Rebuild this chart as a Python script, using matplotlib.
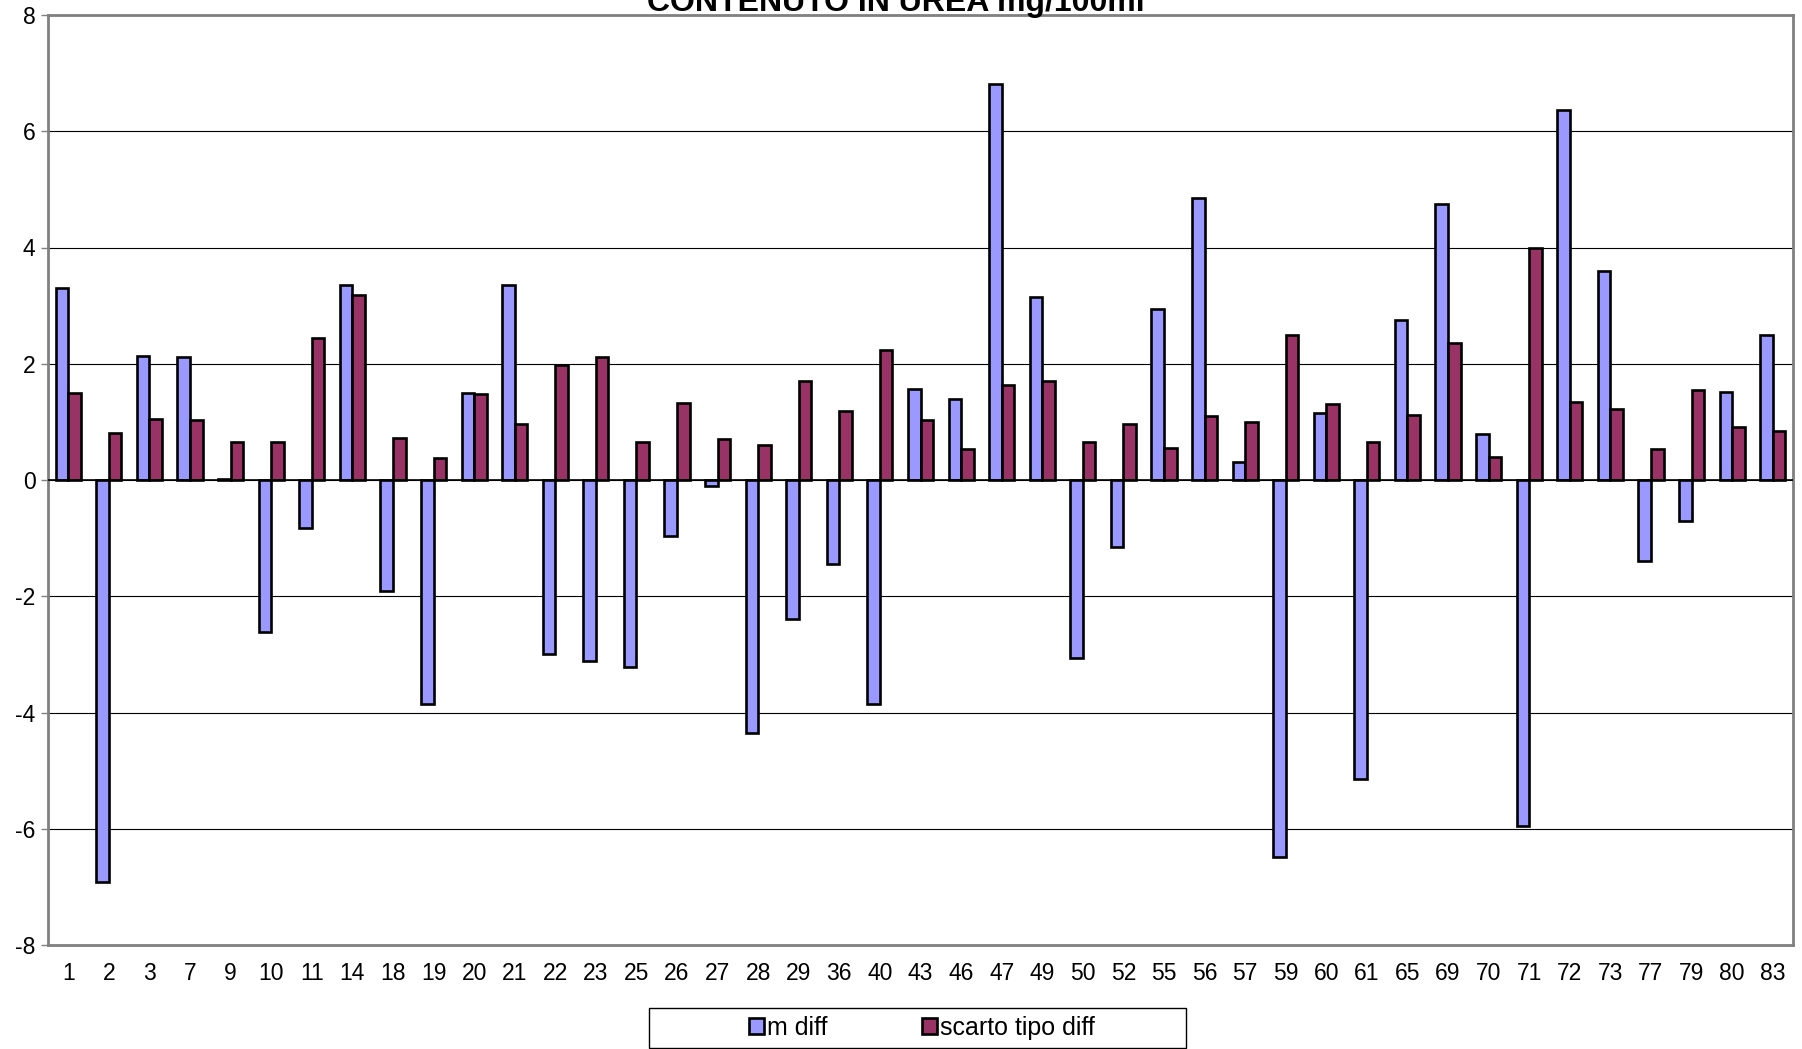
import matplotlib.pyplot as plt
from matplotlib.patches import Rectangle
import numpy as np

plt.rcParams['font.family'] = ['Liberation Sans', 'DejaVu Sans']
plt.rcParams['axes.unicode_minus'] = False

categories = ["1", "2", "3", "7", "9", "10", "11", "14", "18", "19", "20", "21", "22",
              "23", "25", "26", "27", "28", "29", "36", "40", "43", "46", "47", "49", "50",
              "52", "55", "56", "57", "59", "60", "61", "65", "69", "70", "71", "72", "73",
              "77", "79", "80", "83"]

m_diff = [3.31, -6.91, 2.14, 2.12, 0.01, -2.61, -0.82, 3.36, -1.91, -3.85, 1.50, 3.36, -2.99,
          -3.12, -3.22, -0.97, -0.11, -4.35, -2.39, -1.45, -3.85, 1.56, 1.40, 6.82, 3.15, -3.07,
          -1.15, 2.94, 4.86, 0.31, -6.49, 1.15, -5.15, 2.75, 4.74, 0.79, -5.95, 6.36, 3.59,
          -1.39, -0.71, 1.52, 2.49]

scarto_diff = [1.49, 0.81, 1.05, 1.03, 0.65, 0.65, 2.45, 3.18, 0.73, 0.37, 1.48, 0.96, 1.98,
               2.11, 0.66, 1.32, 0.71, 0.60, 1.71, 1.19, 2.24, 1.03, 0.53, 1.64, 1.71, 0.65,
               0.96, 0.55, 1.10, 1.00, 2.49, 1.31, 0.66, 1.11, 2.36, 0.40, 4.00, 1.34, 1.22,
               0.53, 1.54, 0.91, 0.84]

W, H = 1802, 1049
fig = plt.figure(figsize=(W / 100, H / 100), dpi=100)
ax = fig.add_axes([48 / W, 1 - 945 / H, (1793 - 48) / W, (945 - 15) / H])

x = np.arange(len(categories))
bw = 0.31
ax.bar(x - bw / 2, m_diff, bw, color="#9999FF", edgecolor="black", linewidth=1.9,
       label="m diff", zorder=3)
ax.bar(x + bw / 2, scarto_diff, bw, color="#993366", edgecolor="black", linewidth=1.9,
       label="scarto tipo diff", zorder=3)

ax.set_xlim(-0.5, len(categories) - 0.5)
ax.set_ylim(-8, 8)
ax.set_yticks(range(-8, 9, 2))
ax.set_xticks(x)
ax.set_xticklabels(categories)
ax.tick_params(axis="x", length=0, pad=12, labelsize=16.5)
ax.tick_params(axis="y", length=5, width=1, color="#808080", pad=4, labelsize=16.5)

ax.yaxis.grid(True, color="black", linewidth=0.8, zorder=1)
ax.axhline(0, color="black", linewidth=1.2, zorder=4)
for s in ax.spines.values():
    s.set_color("#808080")
    s.set_linewidth(2)

# title sits partly above the top edge
fig.text(896 / W, 1 - 11 / H, "CONTENUTO IN UREA mg/100ml", ha="center", va="baseline",
         fontsize=23, fontweight="bold")

# legend box drawn separately so its size can be set
fig.patches.append(Rectangle((649 / W, 1 - 1048 / H), (1186 - 649) / W, 40 / H,
                             transform=fig.transFigure, facecolor="white",
                             edgecolor="black", linewidth=1))
leg = fig.legend(loc="center", bbox_to_anchor=(922 / W, 1 - 1028 / H), ncol=2,
                 frameon=False, fontsize=18, handlelength=0.6, handleheight=0.6,
                 handletextpad=0.15, columnspacing=3.75)

fig.savefig("out.png", dpi=100)
